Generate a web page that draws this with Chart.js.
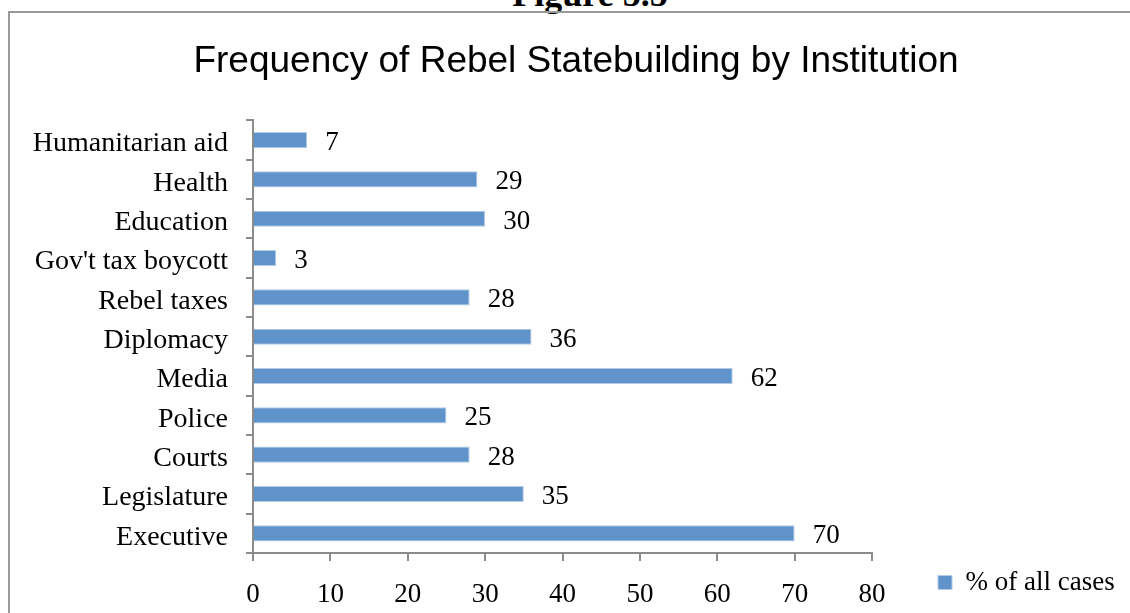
<!DOCTYPE html>
<html>
<head>
<meta charset="utf-8">
<script src="https://cdn.jsdelivr.net/npm/chart.js@4/dist/chart.umd.min.js"></script>
<style>
  html, body { margin: 0; padding: 0; background: #fff; overflow: hidden; }
  #wrap { position: relative; width: 1130px; height: 613px; }
  #frame {
    position: absolute; left: 8px; top: 11px; width: 1400px; height: 900px;
    border-left: 2px solid #9a9a9a; border-top: 2px solid #9a9a9a;
    box-sizing: border-box; pointer-events: none;
  }
  #fig {
    position: absolute; left: 390px; top: -24px; width: 400px; text-align: center;
    font: bold 36px "Liberation Serif", "Times New Roman", serif; line-height: 1; color: #000;
  }
  canvas { position: absolute; left: 0; top: 0; }
</style>
</head>
<body>
<div id="wrap">
  <div id="fig">Figure 5.5</div>
  <div id="frame"></div>
  <canvas id="c" width="1130" height="613"></canvas>
</div>
<script>
// Institutions, listed bottom-up as they appear on the axis
const categories = [
  'Executive', 'Legislature', 'Courts', 'Police', 'Media', 'Diplomacy',
  'Rebel taxes', "Gov't tax boycott", 'Education', 'Health', 'Humanitarian aid'
];
// Share of all cases with each institution (%)
const shareOfCases = [70, 35, 28, 25, 62, 36, 28, 3, 30, 29, 7];
const seriesName = '% of all cases';
const xTicks = [0, 10, 20, 30, 40, 50, 60, 70, 80];

const serif = '"Liberation Serif", "Times New Roman", serif';
const axisGray = '#8c8c8c';

// Writes each bar's value just past its end
const valueLabels = {
  id: 'valueLabels',
  afterDatasetsDraw(chart) {
    const ctx = chart.ctx;
    ctx.save();
    ctx.font = '27px ' + serif;
    ctx.fillStyle = '#000';
    ctx.textAlign = 'left';
    ctx.textBaseline = 'middle';
    chart.data.datasets.forEach((ds, di) => {
      chart.getDatasetMeta(di).data.forEach((bar, i) => {
        ctx.fillText(String(ds.data[i]), bar.x + 18, bar.y + 3);
      });
    });
    ctx.restore();
  }
};

// Moves the legend block further right, clear of the value axis
const legendGap = {
  id: 'legendGap',
  afterLayout(chart) {
    const lg = chart.legend;
    if (!lg) return;
    const shift = 49;
    lg.left += shift;
    lg.right += shift;
  }
};

new Chart(document.getElementById('c'), {
  type: 'bar',
  data: {
    labels: categories,
    datasets: [{
      label: seriesName,
      data: shareOfCases,
      backgroundColor: '#5f93c9',
      borderColor: '#b3cbe8',
      borderWidth: 1,
      barPercentage: 0.41,
      categoryPercentage: 1
    }]
  },
  plugins: [valueLabels, legendGap],
  options: {
    indexAxis: 'y',
    responsive: false,
    animation: false,
    layout: { padding: { left: 22, right: 0, top: 0, bottom: 0 } },
    scales: {
      x: {
        min: 0,
        max: 80,
        afterBuildTicks(scale) { scale.ticks = xTicks.map(v => ({ value: v })); },
        afterFit(scale) { scale.height = 60; scale.paddingRight = 258; },
        border: { display: true, color: axisGray, width: 2 },
        grid: { drawOnChartArea: false, drawTicks: true, tickLength: 8, color: axisGray, lineWidth: 2 },
        ticks: { color: '#000', font: { family: serif, size: 27 }, padding: 18, maxRotation: 0 }
      },
      y: {
        reverse: true,
        afterFit(scale) { scale.width = 231; },
        border: { display: true, color: axisGray, width: 2 },
        grid: { drawOnChartArea: false, drawTicks: true, tickLength: 7, color: axisGray, lineWidth: 2, offset: true },
        ticks: { color: '#000', font: { family: serif, size: 28 }, padding: 18, labelOffset: 4, autoSkip: false }
      }
    },
    plugins: {
      title: {
        display: true,
        text: 'Frequency of Rebel Statebuilding by Institution',
        color: '#000',
        font: { family: '"Liberation Sans", Arial, sans-serif', size: 37, weight: 'normal' },
        padding: { top: 40, bottom: 36 }
      },
      legend: {
        position: 'right',
        align: 'end',
        labels: {
          color: '#000',
          font: { family: serif, size: 27 },
          boxWidth: 14,
          boxHeight: 14,
          padding: 17
        }
      },
      tooltip: { enabled: false }
    }
  }
});
</script>
</body>
</html>
